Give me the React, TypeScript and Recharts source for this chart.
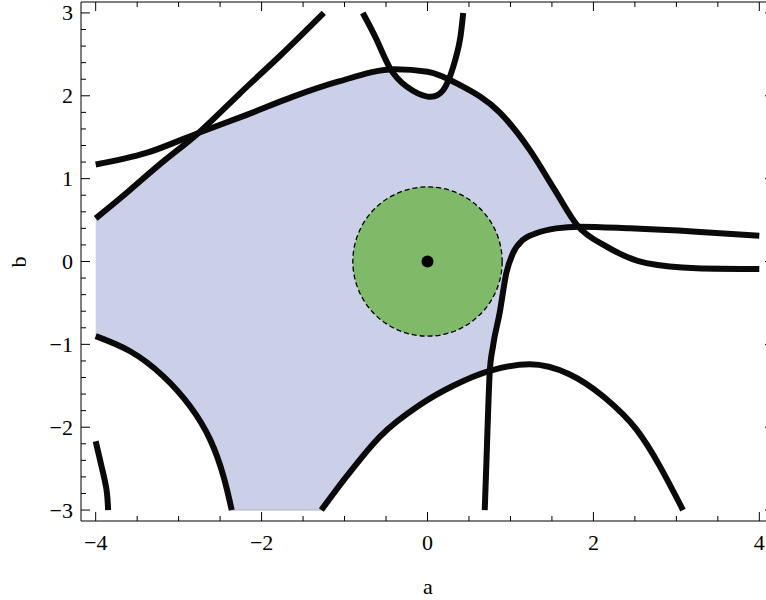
import { ScatterChart, Scatter, XAxis, YAxis, ReferenceDot } from "recharts";

// axis ranges and ticks
const X_DOMAIN = [-4.177, 4.177];
const Y_DOMAIN = [-3.132, 3.132];
const X_MAJOR = [-4, -2, 0, 2, 4];
const X_MINOR = [-3.5, -3, -2.5, -1.5, -1, -0.5, 0.5, 1, 1.5, 2.5, 3, 3.5];
const Y_MAJOR = [-3, -2, -1, 0, 1, 2, 3];
const Y_MINOR = [
  -2.8, -2.6, -2.4, -2.2, -1.8, -1.6, -1.4, -1.2, -0.8, -0.6, -0.4, -0.2,
  0.2, 0.4, 0.6, 0.8, 1.2, 1.4, 1.6, 1.8, 2.2, 2.4, 2.6, 2.8,
];

// shaded region (a, b)
const REGION = [
  [-4.0, 0.52], [-3.59, 0.86], [-3.17, 1.22], [-2.74, 1.57], [-2.18, 1.77],
  [-1.62, 1.99], [-1.08, 2.17], [-0.45, 2.31], [-0.25, 2.11], [0.0, 1.99],
  [0.19, 2.07], [0.25, 2.2], [0.39, 2.13], [0.87, 1.8], [1.23, 1.35],
  [1.53, 0.87], [1.82, 0.42], [1.55, 0.4], [1.31, 0.34], [1.15, 0.26],
  [1.03, 0.1], [0.95, -0.14], [0.87, -0.62], [0.79, -1.02], [0.75, -1.32],
  [0.31, -1.5], [-0.09, -1.73], [-0.57, -2.11], [-0.98, -2.6], [-1.28, -3.0],
  [-2.36, -3.0], [-2.46, -2.59], [-2.62, -2.15], [-2.86, -1.75], [-3.19, -1.38],
  [-3.59, -1.08], [-4.0, -0.9],
];

// contour curves (a, b), a increasing along each
const CURVE_DIAGONAL = [
  [-4.0, 0.52], [-3.59, 0.86], [-3.17, 1.22], [-2.74, 1.57], [-2.26, 2.03],
  [-1.78, 2.48], [-1.25, 3.0],
];
const CURVE_RIDGE = [
  [-4.0, 1.17], [-3.39, 1.31], [-2.74, 1.56], [-2.18, 1.77], [-1.62, 1.99],
  [-1.08, 2.17], [-0.39, 2.32], [0.0, 2.29], [0.39, 2.13], [0.87, 1.8],
  [1.23, 1.35], [1.53, 0.87], [1.81, 0.43], [2.16, 0.18], [2.64, -0.02],
  [3.24, -0.08], [4.0, -0.09],
];
const CURVE_CUP = [
  [-0.78, 3.0], [-0.61, 2.67], [-0.45, 2.33], [-0.25, 2.11], [0.0, 1.99],
  [0.19, 2.07], [0.31, 2.35], [0.39, 2.67], [0.43, 3.0],
];
const CURVE_HOOK = [
  [0.69, -3.0], [0.71, -2.43], [0.73, -1.83], [0.75, -1.34], [0.79, -1.02],
  [0.87, -0.62], [0.95, -0.14], [1.03, 0.1], [1.15, 0.26], [1.31, 0.34],
  [1.55, 0.4], [1.83, 0.42], [2.44, 0.4], [3.24, 0.36], [4.0, 0.31],
];
const CURVE_ARCH = [
  [-1.28, -3.0], [-0.98, -2.6], [-0.57, -2.11], [-0.09, -1.73], [0.31, -1.5],
  [0.75, -1.32], [1.23, -1.24], [1.71, -1.36], [2.12, -1.63], [2.52, -2.03],
  [3.08, -3.0],
];
const CURVE_LOWER_LEFT = [
  [-4.0, -0.9], [-3.59, -1.08], [-3.19, -1.38], [-2.86, -1.75], [-2.62, -2.15],
  [-2.46, -2.59], [-2.36, -3.0],
];
const CURVE_CORNER = [[-4.0, -2.17], [-3.93, -2.47], [-3.87, -2.75], [-3.85, -3.0]];

// [points, spline]
const CURVES: [number[][], string][] = [
  [CURVE_DIAGONAL, "natural"],
  [CURVE_RIDGE, "monotoneX"],
  [CURVE_CUP, "natural"],
  [CURVE_HOOK, "monotoneX"],
  [CURVE_ARCH, "monotoneX"],
  [CURVE_LOWER_LEFT, "natural"],
  [CURVE_CORNER, "natural"],
];

const DISK_CENTER = [0, 0];
const DISK_RADIUS = 0.9;

const W = 780;
const H = 600;
const MARGIN = { top: 1, right: 5, bottom: 78, left: 80 };
const PLOT_W = W - MARGIN.left - MARGIN.right - 2;
const BLUE = "#cbd0e9";
const GREEN = "#7eba68";
const INK = "#0a0a0a";
const FONT = "'Liberation Serif', 'Times New Roman', serif";

const toPts = (c: number[][]) => c.map(([a, b]) => ({ a, b }));
const fmt = (v: number) => (v < 0 ? "\u2212" + Math.abs(v) : String(v));
const noDot = () => <g />;
const X_TICKS = [...X_MAJOR, ...X_MINOR].sort((p, q) => p - q);
const Y_TICKS = [...Y_MAJOR, ...Y_MINOR].sort((p, q) => p - q);

type Side = "bottom" | "top" | "left" | "right";

function makeTick(side: Side, majors: number[], withLabel: boolean) {
  return (props: any) => {
    const { x, y, payload } = props;
    const v = payload.value;
    const major = majors.includes(v);
    const len = major ? 9 : 5;
    let l = { x1: x, y1: y, x2: x, y2: y };
    if (side === "bottom") l = { ...l, y2: y - len };
    if (side === "top") l = { ...l, y2: y + len };
    if (side === "left") l = { ...l, x2: x + len };
    if (side === "right") l = { ...l, x2: x - len };
    return (
      <g>
        <line {...l} stroke="#000" strokeWidth={1} />
        {withLabel && major && side === "bottom" && (
          <text x={x} y={y + 28.5} textAnchor="middle" fontSize={22} fontFamily={FONT} fill="#000">
            {fmt(v)}
          </text>
        )}
        {withLabel && major && side === "left" && (
          <text x={x - 8} y={y + 7.5} textAnchor="end" fontSize={22} fontFamily={FONT} fill="#000">
            {fmt(v)}
          </text>
        )}
      </g>
    );
  };
}

export default function App() {
  const pxPerUnit = PLOT_W / (X_DOMAIN[1] - X_DOMAIN[0]);
  const common = {
    type: "number" as const,
    allowDataOverflow: true,
    stroke: "#000",
    interval: 0 as const,
    tickSize: 0,
    tickMargin: 0,
    tickLine: false,
  };
  return (
    <div style={{ position: "absolute", left: 0, top: 0, width: 766, height: 600, overflow: "hidden", background: "#fff" }}>
      <ScatterChart width={W} height={H} margin={MARGIN}>
        <XAxis {...common} xAxisId="x" dataKey="a" domain={X_DOMAIN} ticks={X_TICKS} height={1}
          tick={makeTick("bottom", X_MAJOR, true)} />
        <XAxis {...common} xAxisId="xt" orientation="top" dataKey="a" domain={X_DOMAIN} ticks={X_TICKS} height={1}
          tick={makeTick("top", X_MAJOR, false)} />
        <YAxis {...common} yAxisId="y" dataKey="b" domain={Y_DOMAIN} ticks={Y_TICKS} width={1}
          tick={makeTick("left", Y_MAJOR, true)} />
        <YAxis {...common} yAxisId="yr" orientation="right" dataKey="b" domain={Y_DOMAIN} ticks={Y_TICKS} width={1}
          tick={makeTick("right", Y_MAJOR, false)} />

        <Scatter xAxisId="x" yAxisId="y" data={toPts(REGION)} shape={noDot} isAnimationActive={false}
          line={{ fill: BLUE, stroke: "#b4b8cc", strokeWidth: 1 }} lineJointType="linear" />
        <ReferenceDot xAxisId="x" yAxisId="y" x={DISK_CENTER[0]} y={DISK_CENTER[1]} r={DISK_RADIUS * pxPerUnit}
          fill={GREEN} stroke="#000" strokeWidth={1.3} strokeDasharray="5 3" />
        {CURVES.map(([c, kind], i) => (
          <Scatter key={i} xAxisId="x" yAxisId="y" data={toPts(c)} shape={noDot} isAnimationActive={false}
            line={{ stroke: INK, strokeWidth: 6, fill: "none" }} lineJointType={kind as any} />
        ))}
        <ReferenceDot xAxisId="x" yAxisId="y" x={DISK_CENTER[0]} y={DISK_CENTER[1]} r={6} fill="#000" stroke="none" />
      </ScatterChart>
      <svg width={766} height={600} style={{ position: "absolute", left: 0, top: 0, pointerEvents: "none" }}>
        <text x={428} y={594} textAnchor="middle" fontSize={22} fontFamily={FONT}>a</text>
        <text x={26} y={262} textAnchor="middle" fontSize={22} fontFamily={FONT} transform="rotate(-90 26 262)">b</text>
      </svg>
    </div>
  );
}
